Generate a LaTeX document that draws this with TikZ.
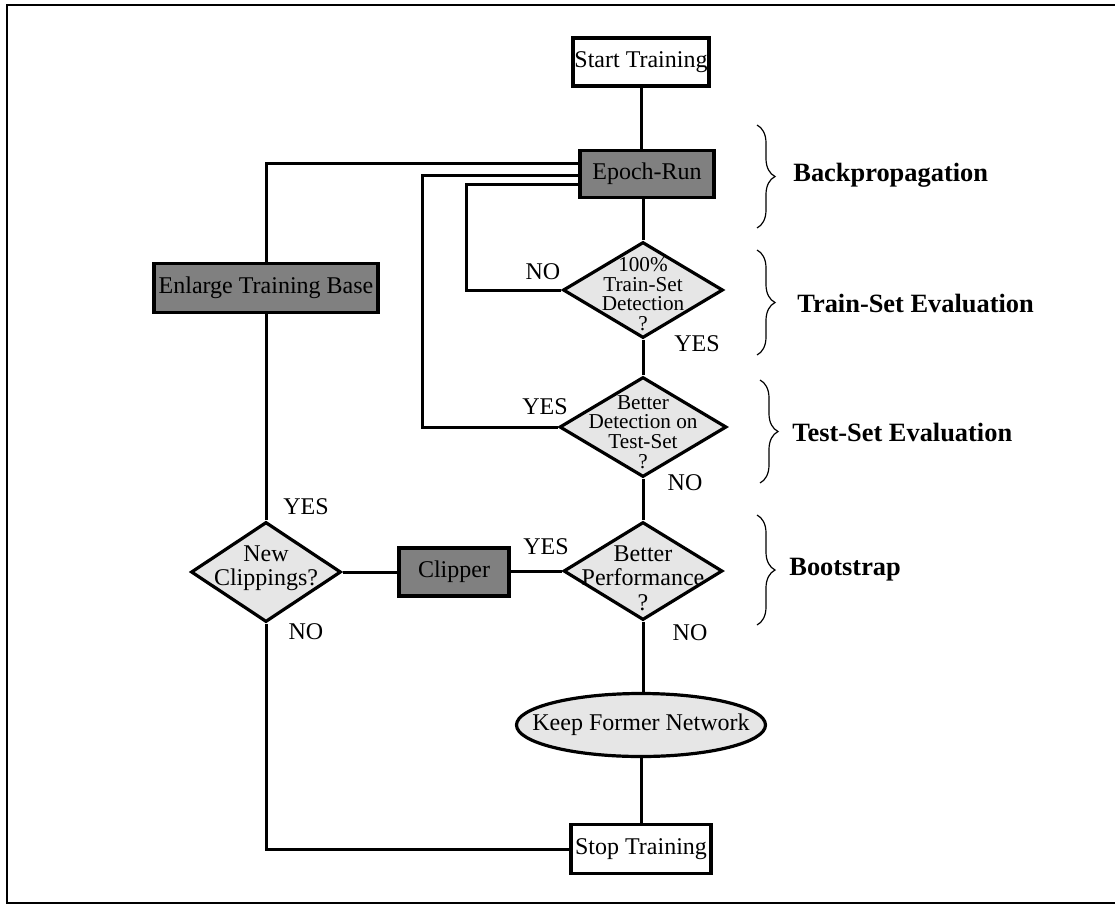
\documentclass[tikz,border=0pt]{standalone}
\usepackage{fontspec}
\setmainfont{Liberation Serif}
\usetikzlibrary{shapes.geometric,decorations.pathreplacing}
\definecolor{boxdark}{HTML}{808080}
\definecolor{boxlight}{HTML}{E6E6E6}
\begin{document}
\begin{tikzpicture}[x=0.5pt,y=-0.5pt,
  every node/.style={font=\fontsize{12}{12.4}\selectfont, inner sep=0pt},
  termbox/.style={draw, line width=1.6pt, fill=white, rectangle},
  procbox/.style={draw, line width=1.6pt, fill=boxdark, rectangle},
  decision/.style={draw, line width=1.6pt, fill=boxlight, diamond},
  outcome/.style={draw, line width=1.6pt, fill=boxlight, ellipse},
  link/.style={line width=1.5pt},
  answer/.style={font=\fontsize{12}{12.4}\selectfont},
  phase/.style={font=\fontsize{13.2}{14}\selectfont\bfseries, anchor=west},
  phasebrace/.style={decorate, decoration={brace, amplitude=9pt}, line width=0.6pt},
  dtext/.style={align=center, font=\fontsize{10.6}{9.8}\selectfont},
  ctext/.style={align=center, font=\fontsize{12}{12.2}\selectfont}
]
\useasboundingbox (0,0) rectangle (1115,906);
\draw[line width=0.7pt] (7,5) rectangle (1118,903);

% main column
\node[termbox, minimum width=68pt, minimum height=24pt] (start) at (641,62) {Start Training};
\node[procbox, minimum width=67pt, minimum height=23.5pt] (epoch) at (647,174) {Epoch-Run};
\node[decision, minimum width=80pt, minimum height=48pt] (d1) at (643,290) {};
\node[decision, minimum width=83.5pt, minimum height=50pt] (d2) at (643,427) {};
\node[decision, minimum width=79.5pt, minimum height=49pt] (d3) at (643,571) {};
\node[outcome, minimum width=124.5pt, minimum height=31.5pt] (keep) at (641,725) {};
\node[termbox, minimum width=70pt, minimum height=24.5pt] (stop) at (641,849) {Stop Training};

% left branch
\node[procbox, minimum width=112pt, minimum height=24.5pt] (enlarge) at (266,288) {Enlarge Training Base};
\node[decision, minimum width=75pt, minimum height=50pt] (newc) at (266,572) {};
\node[procbox, minimum width=55pt, minimum height=24pt] (clipper) at (454,572) {Clipper};

% texts inside the decisions and the ellipse
\node[dtext] (d1t) at (643,294) {100\%\\Train-Set\\Detection\\?};
\node[dtext] (d2t) at (643,432) {Better\\Detection on\\Test-Set\\?};
\node[ctext] (d3t) at (643,578) {Better\\Performance\\?};
\node[ctext] (newct) at (266,568) {New\\Clippings?};
\node (keept) at (641,725) {Keep Former Network};

% feedback points
\coordinate (feedTop) at (647,163);
\coordinate (loopYes) at (422,175);
\coordinate (loopNo) at (466,184);

% connectors
\draw[link] (start.south) -- (start.south |- epoch.north);
\draw[link] (d1.north |- epoch.south) -- (d1.north);
\draw[link] (d1.south) -- (d2.north);
\draw[link] (d2.south) -- (d3.north);
\draw[link] (d3.south) -- (d3.south |- keep.north);
\draw[link] (keep.south) -- (stop.north);
\draw[link] (d1.west) -| (loopNo) -- (loopNo -| epoch.west);
\draw[link] (d2.west) -| (loopYes) -- (loopYes -| epoch.west);
\draw[link] (feedTop -| epoch.west) -| (enlarge.north);
\draw[link] (d3.west) -- (d3.west -| clipper.east);
\draw[link] (clipper.west) -- (clipper.west -| newc.east);
\draw[link] (newc.north) -- (newc.north |- enlarge.south);
\draw[link] (newc.south) |- (stop.west);

% answers
\node[answer] (noA) at (543,272) {NO};
\node[answer] (yesA) at (697,344) {YES};
\node[answer] (yesB) at (545,407) {YES};
\node[answer] (noB) at (685,483) {NO};
\node[answer] (yesC) at (546,547) {YES};
\node[answer] (noC) at (690,633) {NO};
\node[answer] (yesD) at (306,507) {YES};
\node[answer] (noD) at (306,632) {NO};

% phases
\draw[phasebrace] (757,125) -- (757,228);
\draw[phasebrace] (757,250) -- (757,355);
\draw[phasebrace] (760,380) -- (760,483);
\draw[phasebrace] (757,515) -- (757,625);
\node[phase] (bp) at (793,175) {Backpropagation};
\node[phase] (tse) at (797,303) {Train-Set Evaluation};
\node[phase] (tst) at (792,432) {Test-Set Evaluation};
\node[phase] (bs) at (789,570) {Bootstrap};
\end{tikzpicture}
\end{document}
